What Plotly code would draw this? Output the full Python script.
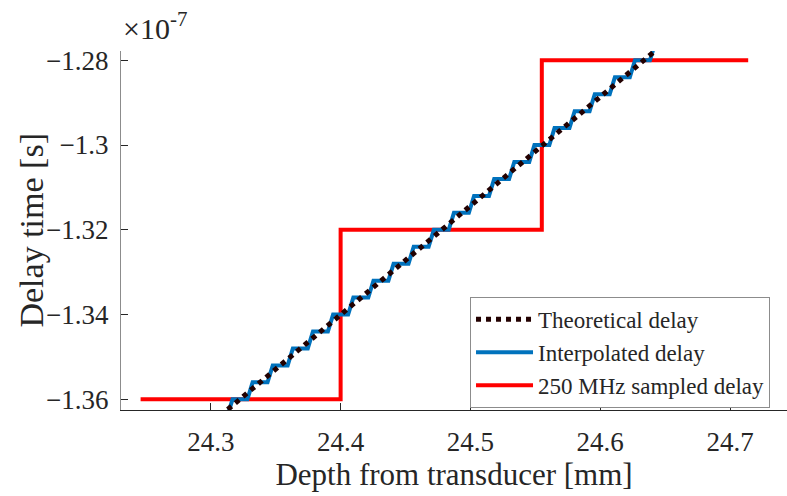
import plotly.graph_objects as go

# ---- data (delay in units of 1e-7 s, depth in mm) ----
theo_x = [24.313, 24.400, 24.555, 24.641]
theo_y = [-1.3624, -1.340, -1.300, -1.2781]

interp_x = [24.3050, 24.3127, 24.3167, 24.3282, 24.3322, 24.3437, 24.3477, 24.3592,
            24.3632, 24.3747, 24.3787, 24.3902, 24.3942, 24.4058, 24.4098, 24.4213,
            24.4253, 24.4368, 24.4408, 24.4523, 24.4563, 24.4678, 24.4718, 24.4833,
            24.4873, 24.4988, 24.5028, 24.5143, 24.5183, 24.5298, 24.5338, 24.5453,
            24.5493, 24.5608, 24.5648, 24.5763, 24.5803, 24.5918, 24.5958, 24.6073,
            24.6113, 24.6228, 24.6268, 24.6383, 24.6423, 24.6500]
interp_y = [-1.364, -1.364, -1.360, -1.360, -1.356, -1.356, -1.352, -1.352,
            -1.348, -1.348, -1.344, -1.344, -1.340, -1.340, -1.336, -1.336,
            -1.332, -1.332, -1.328, -1.328, -1.324, -1.324, -1.320, -1.320,
            -1.316, -1.316, -1.312, -1.312, -1.308, -1.308, -1.304, -1.304,
            -1.300, -1.300, -1.296, -1.296, -1.292, -1.292, -1.288, -1.288,
            -1.284, -1.284, -1.280, -1.280, -1.276, -1.276]

sampled_x = [24.2459, 24.400, 24.555, 24.714]
sampled_y = [-1.36, -1.32, -1.28, -1.28]

x_ticks = [24.3, 24.4, 24.5, 24.6, 24.7]
x_ticktext = ["24.3", "24.4", "24.5", "24.6", "24.7"]
y_ticks = [-1.36, -1.34, -1.32, -1.30, -1.28]
y_ticktext = ["\u22121.36", "\u22121.34", "\u22121.32", "\u22121.3", "\u22121.28"]

x_range = [24.2308, 24.7439]
y_range = [-1.36252, -1.27781]

FONT = "Liberation Serif"
DARK = "#262626"
GRAY = "#8c8c8c"

fig = go.Figure()
fig.add_trace(go.Scatter(x=sampled_x, y=sampled_y, mode="lines", line_shape="hv",
                         line=dict(color="#FF0000", width=4),
                         name="250 MHz sampled delay"))
fig.add_trace(go.Scatter(x=interp_x, y=interp_y, mode="lines",
                         line=dict(color="#0072BD", width=4),
                         name="Interpolated delay"))
fig.add_trace(go.Scatter(x=theo_x, y=theo_y, mode="lines",
                         line=dict(color="#220000", width=5, dash="5px,5px"),
                         name="Theoretical delay"))

fig.update_layout(
    width=787, height=496,
    margin=dict(l=121, r=0, t=51, b=86),
    paper_bgcolor="white", plot_bgcolor="white",
    font=dict(family=FONT, color=DARK),
    xaxis=dict(range=x_range, tickvals=x_ticks, ticktext=x_ticktext,
               ticks="inside", ticklen=7, tickcolor=DARK, showline=True,
               linecolor=DARK, linewidth=1, showgrid=False, zeroline=False,
               tickfont=dict(size=27, family=FONT, color=DARK),
               ticklabelstandoff=8,
               title=dict(text="Depth from transducer [mm]",
                          font=dict(size=31, family=FONT, color=DARK), standoff=6)),
    xaxis2=dict(range=x_range, overlaying="x", side="top", anchor="y",
                tickvals=x_ticks, ticks="inside", ticklen=7, tickcolor=DARK,
                showticklabels=False, showline=True, linecolor=GRAY, linewidth=1,
                showgrid=False, zeroline=False),
    yaxis=dict(range=y_range, tickvals=y_ticks, ticktext=y_ticktext,
               ticks="inside", ticklen=7, tickcolor=DARK, showline=True,
               linecolor=GRAY, linewidth=1, showgrid=False, zeroline=False,
               tickfont=dict(size=27, family=FONT, color=DARK),
               ticklabelstandoff=6),
    legend=dict(x=0.9745, y=0.315, xanchor="right", yanchor="top",
                traceorder="reversed", bgcolor="white", bordercolor=GRAY,
                borderwidth=1, itemwidth=57,
                font=dict(size=23, family=FONT, color=DARK)),
    showlegend=True,
)

# y-axis title (placed as rotated text to match the reference position)
fig.add_annotation(text="Delay time [s]", xref="paper", yref="paper",
                   x=-0.1351, y=0.5, xanchor="center", yanchor="middle",
                   textangle=-90, showarrow=False,
                   font=dict(size=34, family=FONT, color=DARK))

fig.add_annotation(text="×10<sup>-7</sup>", xref="paper", yref="paper",
                   x=0.0, y=1.0, xanchor="left", yanchor="bottom", yshift=4,
                   showarrow=False, font=dict(size=30, family=FONT, color=DARK))

fig.write_html("out.html")
